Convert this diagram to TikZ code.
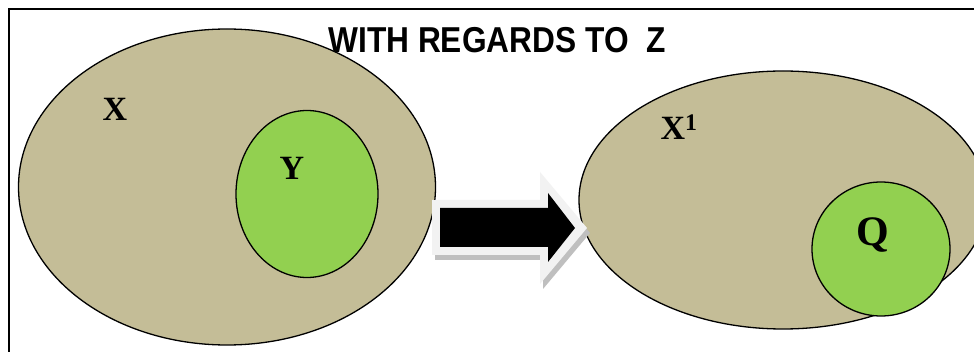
\documentclass[tikz,border=0pt]{standalone}
\usepackage{fontspec}
\setmainfont{Liberation Serif}
\newfontfamily\titlefont{Liberation Sans}
\usetikzlibrary{shapes.geometric}
\definecolor{tan}{HTML}{C4BD97}
\definecolor{lgreen}{HTML}{92D050}
\tikzset{
  setbox/.style={ellipse, draw=black, line width=1.3pt, fill=tan, inner sep=0pt},
  subbox/.style={ellipse, draw=black, line width=1.3pt, fill=lgreen, inner sep=0pt},
  lbl/.style={font=\bfseries, inner sep=0pt, text=black},
}
\begin{document}
\begin{tikzpicture}[x=1pt,y=-1pt]
\useasboundingbox (0,0) rectangle (974,352);
\clip (0,0) rectangle (974,352);
\fill[white] (0,0) rectangle (974,352);
\draw[line width=2pt] (9,400) -- (9,9) -- (1000,9);
% left set
\node[setbox, minimum width=417pt, minimum height=316pt] (X) at (227,187) {};
\node[subbox, minimum width=142pt, minimum height=167pt] (Y) at (307,194) {};
% right set
\node[setbox, minimum width=408pt, minimum height=258pt] (X1) at (783,200) {};
\node[subbox, minimum width=138pt, minimum height=134pt] (Q) at (881,249) {};
% labels
\node[lbl, font=\bfseries\fontsize{34}{34}\selectfont] (lx) at (115,109) {X};
\node[lbl, font=\bfseries\fontsize{34}{34}\selectfont] (ly) at (292,168) {Y};
\node[lbl, font=\bfseries\fontsize{34}{34}\selectfont] (lx1) at (679,127) {X$^{\mathbf{1}}$};
\node[lbl, font=\bfseries\fontsize{42}{42}\selectfont] (lq) at (873,235) {Q};
\node[lbl] (title) at (497,40) {\scalebox{0.88}[1]{\titlefont\bfseries\fontsize{36}{36}\selectfont WITH REGARDS TO\ \ Z}};
% arrow
\fill[gray!50] (435,205) -- (543,205) -- (543,177) -- (590,233) -- (543,289) -- (543,260) -- (435,260) -- cycle;
\fill[gray!10] (432,200) -- (540,200) -- (540,172) -- (587,228) -- (540,284) -- (540,255) -- (432,255) -- cycle;
\fill[black] (440,208) -- (548,208) -- (548,193) -- (575,228) -- (548,262) -- (548,247) -- (440,247) -- cycle;
\end{tikzpicture}
\end{document}
